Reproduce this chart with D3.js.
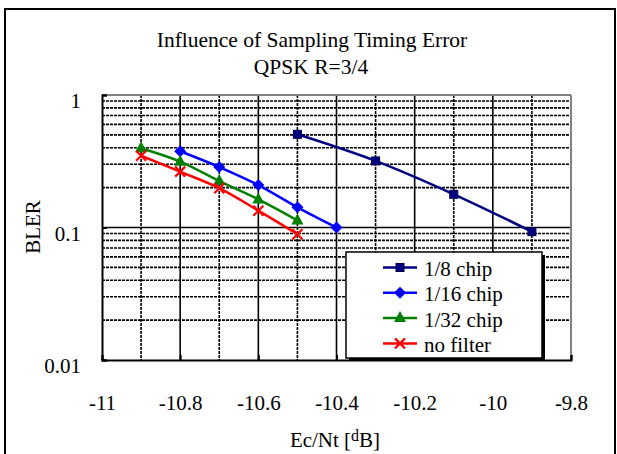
<!DOCTYPE html>
<html>
<head>
<meta charset="utf-8">
<script src="https://cdn.jsdelivr.net/npm/d3@7"></script>
<style>
  body { margin: 0; background: #fff; }
  svg text { font-family: "Liberation Serif", "Times New Roman", serif; fill: #000; }
</style>
</head>
<body>
<div id="chart"></div>
<script>
const W = 617, H = 454;
const MARGIN = { TOP: 95, BOTTOM: 94, LEFT: 102, RIGHT: 46 };
const WIDTH = W - MARGIN.LEFT - MARGIN.RIGHT;
const HEIGHT = H - MARGIN.TOP - MARGIN.BOTTOM;

// data
const xChip8 = [-10.5, -10.3, -10.1, -9.9];
const yChip8 = [0.505, 0.318, 0.178, 0.093];
const xChip16 = [-10.8, -10.7, -10.6, -10.5, -10.4];
const yChip16 = [0.376, 0.286, 0.209, 0.142, 0.100];
const xChip32 = [-10.9, -10.8, -10.7, -10.6, -10.5];
const yChip32 = [0.396, 0.314, 0.224, 0.163, 0.113];
const xNoFilter = [-10.9, -10.8, -10.7, -10.6, -10.5];
const yNoFilter = [0.348, 0.264, 0.198, 0.134, 0.089];

const seriesNames = ["1/8 chip", "1/16 chip", "1/32 chip", "no filter"];
const xTickLabels = [-11, -10.8, -10.6, -10.4, -10.2, -10, -9.8];
const yTickLabels = [0.01, 0.1, 1];

const series = [
  { name: seriesNames[0], xs: xChip8, ys: yChip8, color: "#000080", marker: "square" },
  { name: seriesNames[1], xs: xChip16, ys: yChip16, color: "#0000ff", marker: "diamond" },
  { name: seriesNames[2], xs: xChip32, ys: yChip32, color: "#008000", marker: "triangle" },
  { name: seriesNames[3], xs: xNoFilter, ys: yNoFilter, color: "#ff0000", marker: "cross" }
];

const svg = d3.select("#chart").append("svg")
  .attr("width", W)
  .attr("height", H);

// outer chart frame
svg.append("rect")
  .attr("x", 5).attr("y", 9)
  .attr("width", 610).attr("height", 470)
  .attr("fill", "#fff")
  .attr("stroke", "#000")
  .attr("stroke-width", 2);

// titles
svg.append("text")
  .attr("x", 312).attr("y", 47)
  .attr("text-anchor", "middle")
  .attr("font-size", 21.5)
  .text("Influence of Sampling Timing Error");
svg.append("text")
  .attr("x", 311).attr("y", 74)
  .attr("text-anchor", "middle")
  .attr("font-size", 21.5)
  .text("QPSK R=3/4");

const g = svg.append("g")
  .attr("transform", `translate(${MARGIN.LEFT}, ${MARGIN.TOP})`);

const x = d3.scaleLinear().domain([-11, -9.8]).range([0, WIDTH]);
const y = d3.scaleLog().domain([0.01, 1]).range([HEIGHT, 0]);

// grid lines: major solid, minor dashed
const xGrid = x.ticks(12);
const isMajorX = v => xTickLabels.some(t => Math.abs(t - v) < 1e-6);
g.selectAll(".vgrid").data(xGrid.filter(v => v > -11 + 1e-6 && v < -9.8 - 1e-6))
  .enter().append("line")
    .attr("x1", d => x(d)).attr("x2", d => x(d))
    .attr("y1", 0).attr("y2", HEIGHT)
    .attr("stroke", "#000")
    .attr("stroke-width", 1.6)
    .attr("stroke-dasharray", d => isMajorX(d) ? null : "3,1");

const yGrid = y.ticks();
const isMajorY = v => yTickLabels.some(t => Math.abs(t - v) < 1e-9);
g.selectAll(".hgrid").data(yGrid.filter(v => v > 0.01 + 1e-9 && v < 1 - 1e-9))
  .enter().append("line")
    .attr("x1", 0).attr("x2", WIDTH)
    .attr("y1", d => y(d)).attr("y2", d => y(d))
    .attr("stroke", "#000")
    .attr("stroke-width", 1.6)
    .attr("stroke-dasharray", d => isMajorY(d) ? null : "3,1");

// plot area border (grey top/right), black axes
g.append("line").attr("x1", 0).attr("x2", WIDTH).attr("y1", 0).attr("y2", 0)
  .attr("stroke", "#808080").attr("stroke-width", 2);
g.append("line").attr("x1", WIDTH).attr("x2", WIDTH).attr("y1", 0).attr("y2", HEIGHT)
  .attr("stroke", "#808080").attr("stroke-width", 2);

const xAxis = d3.axisBottom(x).tickValues(xTickLabels).tickSize(-5).tickPadding(32)
  .tickFormat(d => String(+d.toFixed(1)));
const xAxisGroup = g.append("g")
  .attr("transform", `translate(0, ${HEIGHT})`)
  .call(xAxis);
xAxisGroup.select(".domain").attr("stroke", "#000").attr("stroke-width", 2);
xAxisGroup.selectAll(".tick line").attr("stroke", "#000").attr("stroke-width", 2);
xAxisGroup.selectAll("text").attr("font-size", 21).attr("dy", 0).attr("y", 50)
  .style("font-family", "Liberation Serif, Times New Roman, serif");

const yAxis = d3.axisLeft(y).tickValues(yTickLabels).tickSize(-5).tickPadding(21)
  .tickFormat(d => String(d));
const yAxisGroup = g.append("g").call(yAxis);
yAxisGroup.select(".domain").attr("stroke", "#000").attr("stroke-width", 2);
yAxisGroup.selectAll(".tick line").attr("stroke", "#000").attr("stroke-width", 2);
yAxisGroup.selectAll("text").attr("font-size", 21).attr("dy", "0.6em")
  .style("font-family", "Liberation Serif, Times New Roman, serif");

// axis titles
svg.append("text")
  .attr("transform", "translate(40, 227) rotate(-90)")
  .attr("text-anchor", "middle")
  .attr("font-size", 21)
  .text("BLER");

const xt = svg.append("text")
  .attr("x", 335).attr("y", 447)
  .attr("text-anchor", "middle")
  .attr("font-size", 21);
xt.append("tspan").text("Ec/Nt [");
xt.append("tspan").attr("font-size", 16).attr("dy", -6).text("d");
xt.append("tspan").attr("dy", 6).text("B]");

// markers
function drawMarker(sel, type, color) {
  if (type === "square") {
    sel.append("rect").attr("x", -4).attr("y", -4).attr("width", 8).attr("height", 8)
      .attr("fill", color).attr("stroke", "#000050").attr("stroke-width", 1);
  } else if (type === "diamond") {
    sel.append("path").attr("d", "M0,-6L6,0L0,6L-6,0Z").attr("fill", color);
  } else if (type === "triangle") {
    sel.append("path").attr("d", "M0,-7L6,4L-6,4Z").attr("fill", color);
  } else {
    sel.append("path").attr("d", "M-5,-5L5,5M-5,5L5,-5")
      .attr("stroke", color).attr("stroke-width", 2.2).attr("fill", "none");
  }
}

const line = d3.line()
  .x(d => x(d[0]))
  .y(d => y(d[1]))
  .curve(d3.curveCatmullRom.alpha(0.5));

series.forEach(s => {
  const pts = s.xs.map((v, i) => [v, s.ys[i]]);
  g.append("path")
    .datum(pts)
    .attr("d", line)
    .attr("fill", "none")
    .attr("stroke", s.color)
    .attr("stroke-width", 2.5);
  g.selectAll(null).data(pts).enter().append("g")
    .attr("transform", d => `translate(${x(d[0])}, ${y(d[1])})`)
    .each(function () { drawMarker(d3.select(this), s.marker, s.color); });
});

// legend
const legend = svg.append("g").attr("transform", "translate(346, 252)");
legend.append("rect").attr("x", 3).attr("y", 3).attr("width", 196).attr("height", 106)
  .attr("fill", "#000");
legend.append("rect").attr("x", 0).attr("y", 0).attr("width", 196).attr("height", 106)
  .attr("fill", "#fff").attr("stroke", "#000").attr("stroke-width", 1.5);

series.forEach((s, i) => {
  const row = legend.append("g").attr("transform", `translate(0, ${15.5 + i * 25.3})`);
  row.append("line").attr("x1", 37).attr("x2", 71).attr("y1", 0).attr("y2", 0)
    .attr("stroke", s.color).attr("stroke-width", 2.5);
  const m = row.append("g").attr("transform", "translate(54, 0)");
  drawMarker(m, s.marker, s.color);
  row.append("text").attr("x", 78).attr("y", 8.5)
    .attr("font-size", 21)
    .text(s.name);
});
</script>
</body>
</html>
